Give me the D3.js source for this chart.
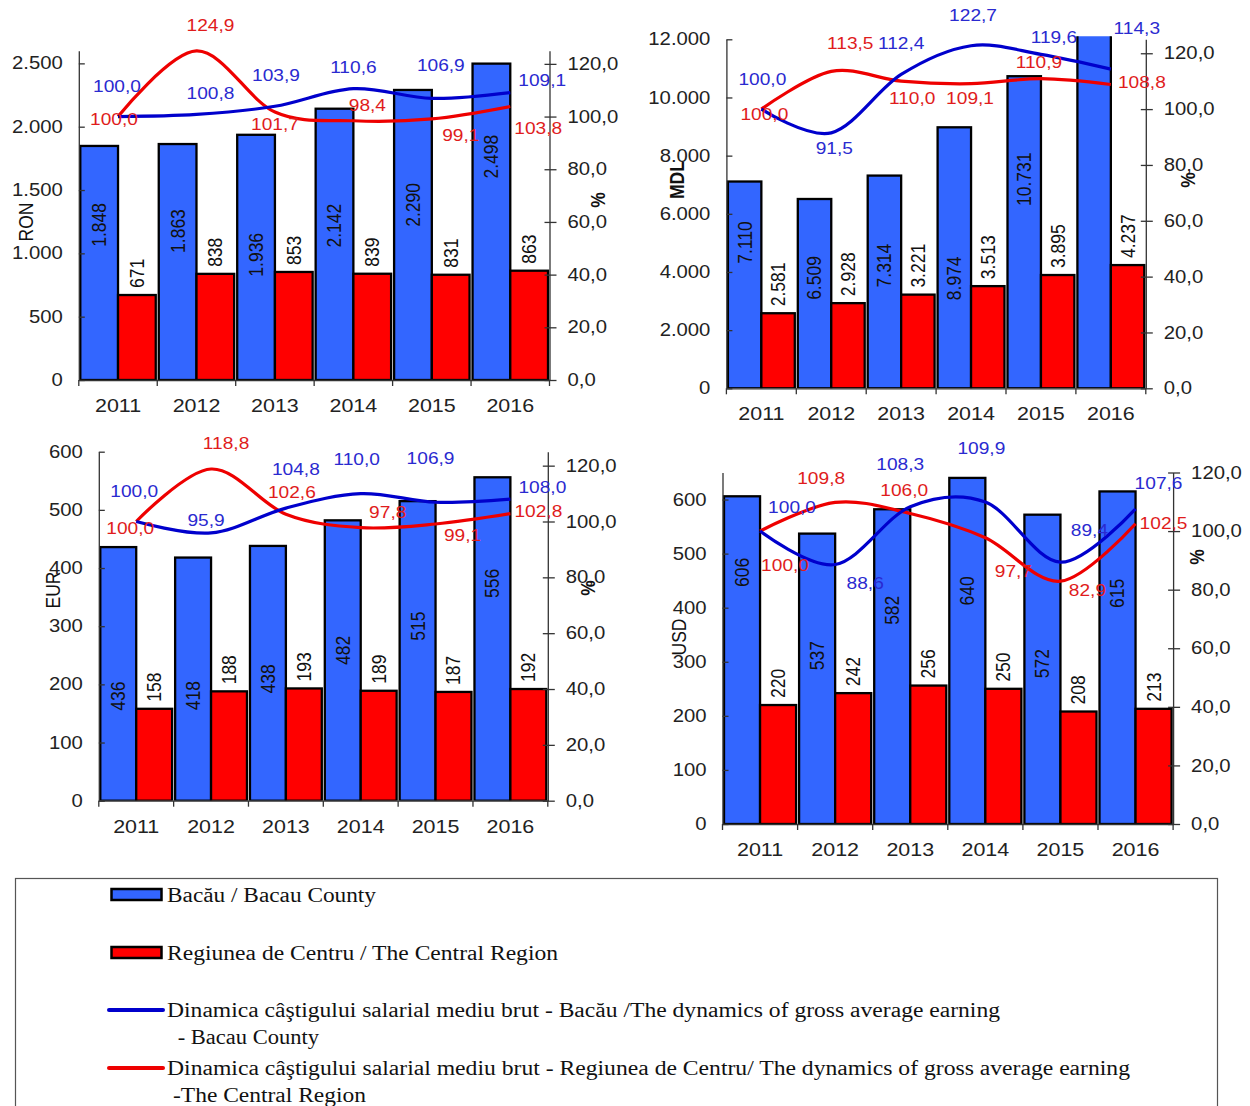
<!DOCTYPE html>
<html>
<head>
<meta charset="utf-8">
<script src="https://cdn.jsdelivr.net/npm/d3@7"></script>
<style>
  html, body { margin: 0; padding: 0; background: #fff; }
  svg { display: block; }
</style>
</head>
<body>
<svg id="chart" width="1250" height="1106"></svg>
<script>
// ---------------- DATA ----------------
const years = ["2011", "2012", "2013", "2014", "2015", "2016"];

const ronBacau   = [1848, 1863, 1936, 2142, 2290, 2498];
const ronCentru  = [671, 838, 853, 839, 831, 863];
const ronDynBacau  = [100.0, 100.8, 103.9, 110.6, 106.9, 109.1];
const ronDynCentru = [100.0, 124.9, 101.7, 98.4, 99.1, 103.8];

const mdlBacau   = [7110, 6509, 7314, 8974, 10731, 12266];
const mdlCentru  = [2581, 2928, 3221, 3513, 3895, 4237];
const mdlDynBacau  = [100.0, 91.5, 112.4, 122.7, 119.6, 114.3];
const mdlDynCentru = [100.0, 113.5, 110.0, 109.1, 110.9, 108.8];

const eurBacau   = [436, 418, 438, 482, 515, 556];
const eurCentru  = [158, 188, 193, 189, 187, 192];
const eurDynBacau  = [100.0, 95.9, 104.8, 110.0, 106.9, 108.0];
const eurDynCentru = [100.0, 118.8, 102.6, 97.8, 99.1, 102.8];

const usdBacau   = [606, 537, 582, 640, 572, 615];
const usdCentru  = [220, 242, 256, 250, 208, 213];
const usdDynBacau  = [100.0, 88.6, 108.3, 109.9, 89.4, 107.6];
const usdDynCentru = [100.0, 109.8, 106.0, 97.7, 82.9, 102.5];

const ronTicks = [0, 500, 1000, 1500, 2000, 2500];
const mdlTicks = [0, 2000, 4000, 6000, 8000, 10000, 12000];
const eurTicks = [0, 100, 200, 300, 400, 500, 600];
const usdTicks = [0, 100, 200, 300, 400, 500, 600];
const pctTicks = [0, 20, 40, 60, 80, 100, 120];

const legendLabels = [
  "Bacău / Bacau County",
  "Regiunea de Centru / The Central Region",
  "Dinamica câştigului salarial mediu brut - Bacău /The dynamics of gross average earning",
  " - Bacau County",
  "Dinamica câştigului salarial mediu brut - Regiunea de Centru/ The dynamics of gross average earning",
  "-The Central Region"
];

// ---------------- LAYOUT / STYLE ----------------
const COL = {
  barBlue: "#3366ff", barRed: "#ff0000",
  lineBlue: "#0000cc", lineRed: "#ee0000",
  txtBlue: "#2a2ad0", txtRed: "#e01c1c",
  axisText: "#222"
};
const SX = 1.16;          // horizontal stretch of the original text rendering
const FS_AXIS = 17.5, FS_YEAR = 18.5, FS_LINE = 16.5, FS_BAR = 17.5;

const panels = [
  { unit: "RON", unitBold: false, bacau: ronBacau, centru: ronCentru, dynB: ronDynBacau, dynC: ronDynCentru,
    ticks: ronTicks, leftMax: 2600, rightMax: 125,
    box: { left: 78.8, right: 549.5, top: 50.7, bottom: 380 },
    unitPos: [26, 222], pctPos: [598, 200],
    blueDrop: [79, 87, 120, 117, 115, 93],
    offB: [[-1,-30],[14,-21],[1,-31],[0,-21],[9,-33],[32,-12]],
    offC: [[-4,3],[14,-26],[0,12],[14,-15],[29,17],[28,22]] },
  { unit: "MDL", unitBold: true, bacau: mdlBacau, centru: mdlCentru, dynB: mdlDynBacau, dynC: mdlDynCentru,
    ticks: mdlTicks, leftMax: 12000, rightMax: 125,
    box: { left: 726.4, right: 1145.8, top: 39.3, bottom: 388.3 },
    unitPos: [677, 180], pctPos: [1188, 180],
    blueDrop: [61, 79, 90, 151, 103, null],
    offB: [[1,-30],[3,16],[0,-31],[2,-30],[13,-17],[26,-41]],
    offC: [[3,5],[19,-28],[11,17],[-1,15],[-2,-16],[31,-2]] },
  { unit: "EUR", unitBold: false, bacau: eurBacau, centru: eurCentru, dynB: eurDynBacau, dynC: eurDynCentru,
    ticks: eurTicks, leftMax: 600, rightMax: 125,
    box: { left: 98.8, right: 547.8, top: 451.7, bottom: 800.7 },
    unitPos: [53, 590], pctPos: [588, 588],
    blueDrop: [149, 138, 133, 130, 125, 106],
    offB: [[-2,-30],[-5,-12],[10,-39],[-4,-34],[-5,-44],[32,-12]],
    offC: [[-6,7],[15,-26],[6,-22],[27,-15],[27,11],[28,-2]] },
  { unit: "USD", unitBold: false, bacau: usdBacau, centru: usdCentru, dynB: usdDynBacau, dynC: usdDynCentru,
    ticks: usdTicks, leftMax: 650, rightMax: 120,
    box: { left: 722.5, right: 1173.1, top: 472.5, bottom: 824 },
    unitPos: [679, 637], pctPos: [1197, 557],
    blueDrop: [76, 122, 101, 113, 149, 102],
    offB: [[32,-24],[30,19],[-10,-42],[-4,-54],[29,-32],[23,-25]],
    offC: [[25,34],[-14,-24],[-6,-23],[28,34],[27,9],[28,0]] }
];

const ro = d3.formatLocale({ decimal: ",", thousands: ".", grouping: [3], currency: ["", ""] });
const fmtInt = ro.format(",d");
const fmtPct = ro.format(",.1f");

const svg = d3.select("#chart");
const FONT = "'Liberation Sans', Arial, sans-serif";

// stretch axis tick labels horizontally like the original rendering
function stretchTicks(sel, size) {
  sel.selectAll(".tick text").each(function () {
    const t = d3.select(this);
    const x0 = +(t.attr("x") || 0);
    t.attr("x", 0).attr("transform", `translate(${x0},0) scale(${SX},1)`)
      .attr("font-size", size).attr("fill", COL.axisText).attr("font-family", FONT);
  });
}

panels.forEach((p, pi) => {
  const b = p.box;
  const g = svg.append("g").attr("font-family", FONT);

  const x = d3.scaleBand().domain(years).range([b.left, b.right]).padding(0);
  const yL = d3.scaleLinear().domain([0, p.leftMax]).range([b.bottom, b.top]);
  const yR = d3.scaleLinear().domain([0, p.rightMax]).range([b.bottom, b.top]);
  const w = x.bandwidth();
  const inner = d3.scaleBand().domain(["b", "c"]).range([1.5, w - 1.5]).padding(0);

  const clipId = "clip" + pi;
  svg.append("clipPath").attr("id", clipId).append("rect")
    .attr("x", b.left - 5).attr("y", b.top - 3).attr("width", b.right - b.left + 10).attr("height", b.bottom - b.top + 3);

  const bars = g.append("g").attr("clip-path", `url(#${clipId})`);
  const rows = years.map((yr, i) => ({ yr, i, b: p.bacau[i], c: p.centru[i] }));

  bars.selectAll("rect.bb").data(rows).join("rect")
    .attr("x", d => x(d.yr) + inner("b"))
    .attr("y", d => yL(d.b))
    .attr("width", inner.bandwidth())
    .attr("height", d => yL(0) - yL(d.b))
    .attr("fill", COL.barBlue).attr("stroke", "#000").attr("stroke-width", 2.3);

  bars.selectAll("rect.cc").data(rows).join("rect")
    .attr("x", d => x(d.yr) + inner("c"))
    .attr("y", d => yL(d.c))
    .attr("width", inner.bandwidth())
    .attr("height", d => yL(0) - yL(d.c))
    .attr("fill", COL.barRed).attr("stroke", "#000").attr("stroke-width", 2.3);

  // left axis
  const axL = d3.axisLeft(yL).tickValues(p.ticks).tickFormat(fmtInt).tickSizeInner(7).tickSizeOuter(0).tickPadding(9);
  const gL = g.append("g").attr("transform", `translate(${b.left},0)`).call(axL);
  gL.selectAll(".tick line").attr("x2", 6);
  gL.selectAll("line,path").attr("stroke", "#333").attr("stroke-width", 1.3);
  stretchTicks(gL, FS_AXIS);

  // right axis
  const axR = d3.axisRight(yR).tickValues(pctTicks).tickFormat(fmtPct).tickSizeInner(7).tickSizeOuter(0).tickPadding(11);
  const gR = g.append("g").attr("transform", `translate(${b.right},0)`).call(axR);
  gR.selectAll(".tick line").attr("x1", -5);
  gR.selectAll("line,path").attr("stroke", "#333").attr("stroke-width", 1.3);
  stretchTicks(gR, FS_AXIS);

  // bottom axis
  const axB = d3.axisBottom(x).tickSize(0).tickPadding(19);
  const gB = g.append("g").attr("transform", `translate(0,${b.bottom})`).call(axB);
  gB.select(".domain").attr("stroke", "#333").attr("stroke-width", 1.3);
  stretchTicks(gB, FS_YEAR);
  const bounds = years.map(yr => x(yr)).concat([x(years[years.length - 1]) + w]);
  gB.selectAll("line.bnd").data(bounds).join("line")
    .attr("x1", d => d).attr("x2", d => d).attr("y1", 0).attr("y2", 6)
    .attr("stroke", "#333").attr("stroke-width", 1.3);

  // axis titles
  g.append("text").text(p.unit)
    .attr("transform", `translate(${p.unitPos[0]},${p.unitPos[1]}) scale(${SX},1) rotate(-90)`)
    .attr("text-anchor", "middle").attr("dominant-baseline", "central")
    .attr("font-size", FS_AXIS).attr("font-weight", p.unitBold ? "bold" : "normal").attr("fill", "#111");
  g.append("text").text("%")
    .attr("transform", `translate(${p.pctPos[0]},${p.pctPos[1]}) scale(${SX},1) rotate(-90)`)
    .attr("text-anchor", "middle").attr("dominant-baseline", "central")
    .attr("font-size", FS_AXIS).attr("font-weight", "bold").attr("fill", "#111");

  // bar value labels
  g.selectAll("text.bl").data(rows.filter(d => d.b <= p.leftMax && p.blueDrop[d.i] != null)).join("text")
    .attr("transform", d => `translate(${x(d.yr) + inner("b") + inner.bandwidth() / 2},${yL(d.b) + p.blueDrop[d.i]}) scale(${SX},1) rotate(-90)`)
    .attr("text-anchor", "middle").attr("dominant-baseline", "central")
    .attr("font-size", FS_BAR).attr("fill", "#111").text(d => fmtInt(d.b));
  g.selectAll("text.cl").data(rows).join("text")
    .attr("transform", d => `translate(${x(d.yr) + inner("c") + inner.bandwidth() / 2},${yL(d.c) - 7}) scale(${SX},1) rotate(-90)`)
    .attr("text-anchor", "start").attr("dominant-baseline", "central")
    .attr("font-size", FS_BAR).attr("fill", "#111").text(d => fmtInt(d.c));

  // dynamics lines
  const cx = yr => x(yr) + w / 2;
  const line = d3.line().x(d => cx(d.yr)).y(d => yR(d.v)).curve(d3.curveCatmullRom.alpha(0));
  const ptsB = years.map((yr, i) => ({ yr, i, v: p.dynB[i] }));
  const ptsC = years.map((yr, i) => ({ yr, i, v: p.dynC[i] }));
  g.append("path").datum(ptsC).attr("d", line).attr("fill", "none").attr("stroke", COL.lineRed).attr("stroke-width", 3.2);
  g.append("path").datum(ptsB).attr("d", line).attr("fill", "none").attr("stroke", COL.lineBlue).attr("stroke-width", 3.2);

  // line labels
  g.selectAll("text.lb").data(ptsB).join("text")
    .attr("transform", d => `translate(${cx(d.yr) + p.offB[d.i][0]},${yR(d.v) + p.offB[d.i][1]}) scale(${SX},1)`)
    .attr("text-anchor", "middle").attr("dominant-baseline", "central")
    .attr("font-size", FS_LINE).attr("fill", COL.txtBlue).text(d => fmtPct(d.v));
  g.selectAll("text.lc").data(ptsC).join("text")
    .attr("transform", d => `translate(${cx(d.yr) + p.offC[d.i][0]},${yR(d.v) + p.offC[d.i][1]}) scale(${SX},1)`)
    .attr("text-anchor", "middle").attr("dominant-baseline", "central")
    .attr("font-size", FS_LINE).attr("fill", COL.txtRed).text(d => fmtPct(d.v));
});

// ---------------- LEGEND ----------------
const lg = svg.append("g").attr("font-family", "'Liberation Serif', 'Times New Roman', serif");
lg.append("rect").attr("x", 15.5).attr("y", 878.5).attr("width", 1202).attr("height", 260)
  .attr("fill", "none").attr("stroke", "#555").attr("stroke-width", 1.2);

const legendItems = [
  { kind: "rect", color: COL.barBlue, y: 894.5, label: legendLabels[0], tl: 209, tx: 167 },
  { kind: "rect", color: COL.barRed, y: 952.5, label: legendLabels[1], tl: 391, tx: 167 },
  { kind: "line", color: COL.lineBlue, y: 1010, label: legendLabels[2], tl: 833, tx: 167 },
  { kind: "none", y: 1037, label: legendLabels[3], tl: 147, tx: 172 },
  { kind: "line", color: COL.lineRed, y: 1068, label: legendLabels[4], tl: 963, tx: 167 },
  { kind: "none", y: 1095, label: legendLabels[5], tl: 193, tx: 173 }
];
legendItems.forEach(it => {
  if (it.kind === "rect") {
    lg.append("rect").attr("x", 111.5).attr("y", it.y - 5.5).attr("width", 50).attr("height", 11)
      .attr("fill", it.color).attr("stroke", "#000").attr("stroke-width", 2.5);
  } else if (it.kind === "line") {
    lg.append("line").attr("x1", 109).attr("x2", 163).attr("y1", it.y).attr("y2", it.y)
      .attr("stroke", it.color).attr("stroke-width", 4).attr("stroke-linecap", "round");
  }
  lg.append("text").attr("x", it.tx).attr("y", it.y + 7)
    .attr("font-size", 20.5).attr("fill", "#111")
    .attr("textLength", it.tl).attr("lengthAdjust", "spacingAndGlyphs")
    .attr("xml:space", "preserve")
    .text(it.label);
});
</script>
</body>
</html>
